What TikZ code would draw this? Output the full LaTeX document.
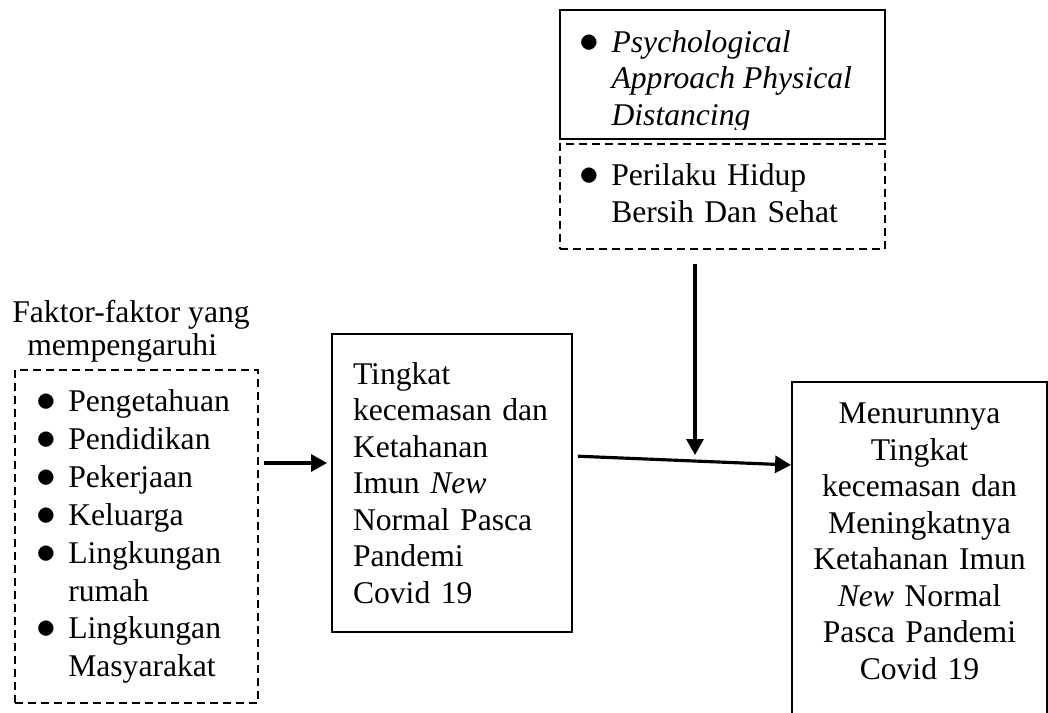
\documentclass[tikz,border=0pt]{standalone}
\usepackage{fontspec}
\setmainfont{Liberation Serif}
\usetikzlibrary{arrows.meta,calc}
\newcommand{\blt}{\scalebox{1.3}{$\bullet$}}

\begin{document}
\begin{tikzpicture}[x=0.02cm, y=-0.02cm,
    txt/.style={font=\fontsize{18}{20.8}\selectfont, inner sep=0pt},
    solidbox/.style={txt, draw, line width=1.1pt},
    dashbox/.style={txt, draw, line width=1.1pt, dash pattern=on 4.6pt off 2.8pt},
    arrow/.style={line width=1.8pt, -{Triangle[length=0.32cm, width=0.34cm]}}]
  \useasboundingbox (0,0) rectangle (1048,713);
  \clip (0,0) rectangle (1048,713);

  % Top boxes
  \node[solidbox, minimum width=6.5cm, minimum height=2.58cm] (approach) at (722.5,74.5) {};
  \begin{scope}
    \clip (approach.north west) rectangle ($(approach.south east)+(0,-10)$);
    \node[txt, anchor=north west] (approachtext) at (579,26.5) {\begin{tabular}{@{}l@{\hspace{0.25cm}}l@{}}
      \blt & \textit{Psychological}\\
           & \textit{Approach Physical}\\
           & \textit{Distancing}
    \end{tabular}};
  \end{scope}
  \node[dashbox, minimum width=6.5cm, minimum height=2.1cm, inner xsep=0.38cm, text width=5.74cm, align=left] (phbs) at (722.5,196.5) {\begin{tabular}{@{}l@{\hspace{0.25cm}}l@{}}
      \blt & Perilaku Hidup\\
           & Bersih Dan Sehat
    \end{tabular}};

  % Left side
  \node[txt, anchor=north west, align=left, font=\fontsize{18}{18.8}\selectfont] (title) at (12,300) {Faktor-faktor yang\\\hspace*{0.3cm}mempengaruhi};
  \node[dashbox, minimum width=4.86cm, minimum height=6.66cm, inner xsep=0.42cm, text width=4.02cm, align=left, font=\fontsize{18}{21.6}\selectfont] (factors) at (136.5,536.5) {\begin{tabular}{@{}l@{\hspace{0.25cm}}l@{}}
      \blt & Pengetahuan\\
      \blt & Pendidikan\\
      \blt & Pekerjaan\\
      \blt & Keluarga\\
      \blt & Lingkungan\\
           & rumah\\
      \blt & Lingkungan\\
           & Masyarakat
    \end{tabular}};

  % Middle and right boxes
  \node[solidbox, minimum width=4.8cm, minimum height=5.96cm, inner xsep=0.42cm, text width=3.96cm, align=left] (level) at (452,483) {Tingkat\\kecemasan dan\\Ketahanan\\Imun \textit{New}\\Normal Pasca\\Pandemi\\Covid 19};
  \node[solidbox, anchor=north, minimum width=5.1cm, inner xsep=0.2cm, inner ysep=0.42cm, text width=4.7cm, align=center] (outcome) at (919.5,381) {Menurunnya\\Tingkat\\kecemasan dan\\Meningkatnya\\Ketahanan Imun\\\textit{New} Normal\\Pasca Pandemi\\Covid 19\rule[-3cm]{0pt}{0pt}};

  % Draw arrows
  \coordinate (meet) at (695,455);
  \coordinate (f-row) at (0,463);
  \coordinate (l-row) at (0,456);
  \draw[arrow, shorten <=0.28cm] (phbs.south -| meet) -- (meet);
  \draw[arrow, shorten <=0.1cm, shorten >=0.08cm] (factors.east |- f-row) -- (level.west |- f-row);
  \draw[arrow, shorten <=0.1cm] (level.east |- l-row) -- ($(outcome.north west)+(0,84)$);
\end{tikzpicture}
\end{document}
